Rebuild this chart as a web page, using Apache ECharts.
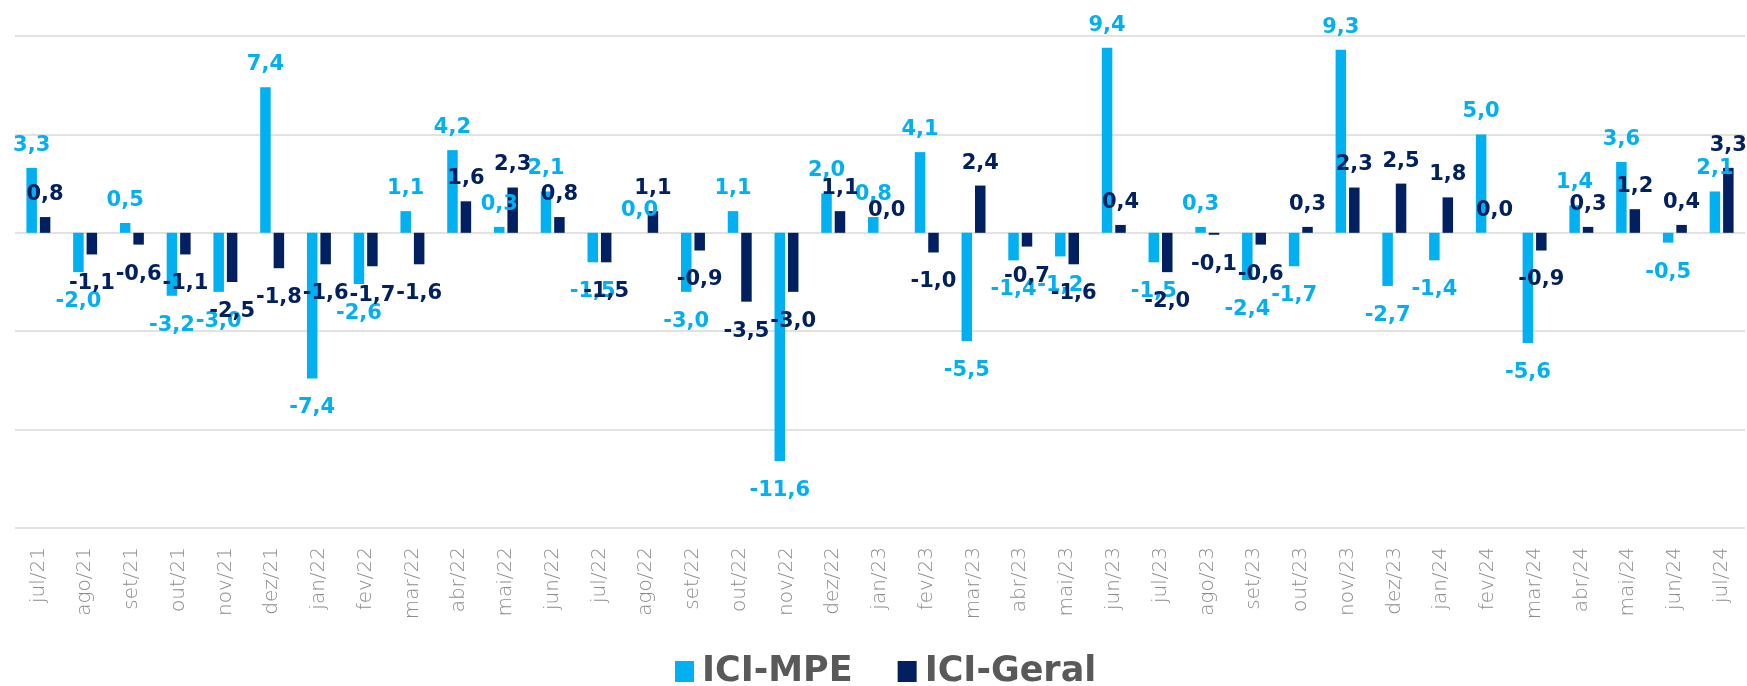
<!DOCTYPE html>
<html>
<head>
<meta charset="utf-8">
<script src="https://cdn.jsdelivr.net/npm/echarts@6/dist/echarts.min.js"></script>
<style>
html,body{margin:0;padding:0;background:#fff;}
#chart{width:1747px;height:686px;}
</style>
</head>
<body>
<div id="chart"></div>
<script>
const categories = ['jul/21','ago/21','set/21','out/21','nov/21','dez/21','jan/22','fev/22','mar/22','abr/22','mai/22','jun/22','jul/22','ago/22','set/22','out/22','nov/22','dez/22','jan/23','fev/23','mar/23','abr/23','mai/23','jun/23','jul/23','ago/23','set/23','out/23','nov/23','dez/23','jan/24','fev/24','mar/24','abr/24','mai/24','jun/24','jul/24'];
const iciMPE = [3.3,-2.0,0.5,-3.2,-3.0,7.4,-7.4,-2.6,1.1,4.2,0.3,2.1,-1.5,0.0,-3.0,1.1,-11.6,2.0,0.8,4.1,-5.5,-1.4,-1.2,9.4,-1.5,0.3,-2.4,-1.7,9.3,-2.7,-1.4,5.0,-5.6,1.4,3.6,-0.5,2.1];
const iciGeral = [0.8,-1.1,-0.6,-1.1,-2.5,-1.8,-1.6,-1.7,-1.6,1.6,2.3,0.8,-1.5,1.1,-0.9,-3.5,-3.0,1.1,0.0,-1.0,2.4,-0.7,-1.6,0.4,-2.0,-0.1,-0.6,0.3,2.3,2.5,1.8,0.0,-0.9,0.3,1.2,0.4,3.3];
const seriesNames = ['ICI-MPE','ICI-Geral'];
const yTicks = {min:-15, max:10, interval:5};

const colors = ['#00B0F0','#002060'];
function toData(arr){
  return arr.map(v => ({value:v, label:{position: v < 0 ? 'bottom' : 'top', distance: v < 0 ? 19 : 12}}));
}
function fmt(p){ return p.value.toFixed(1).replace('.', ','); }
function mkSeries(name, arr, color){
  return {
    name, type:'bar', data: toData(arr), barWidth: 10.5, barGap:'28%',
    itemStyle:{color},
    label:{show:true, formatter: fmt, color, fontFamily:'DejaVu Sans', fontWeight:'bold', fontSize:21}
  };
}
const chart = echarts.init(document.getElementById('chart'), null, {renderer:'canvas'});
chart.setOption({
  animation:false,
  backgroundColor:'#fff',
  grid:{left:15, right:2, top:36, bottom:158, containLabel:false},
  legend:{
    data: seriesNames, top: 649, left: 670,
    itemWidth:19, itemHeight:21, itemGap:45,
    icon:'rect',
    textStyle:{fontFamily:'DejaVu Sans', fontWeight:'bold', fontSize:35, color:'#595959', padding:[0,0,0,3]}
  },
  xAxis:{
    type:'category', data: categories,
    axisLine:{show:false, onZero:false}, axisTick:{show:false},
    axisLabel:{rotate:90, margin:19, interval:0, fontFamily:'DejaVu Sans', fontWeight:200, fontSize:20, color:'#8C8C8C'}
  },
  yAxis:{
    type:'value', min: yTicks.min, max: yTicks.max, interval: yTicks.interval,
    axisLabel:{show:false}, axisLine:{show:false}, axisTick:{show:false},
    splitLine:{lineStyle:{color:'#D9D9D9', width:1.5}}
  },
  series:[ mkSeries(seriesNames[0], iciMPE, colors[0]), mkSeries(seriesNames[1], iciGeral, colors[1]) ]
});
</script>
</body>
</html>
